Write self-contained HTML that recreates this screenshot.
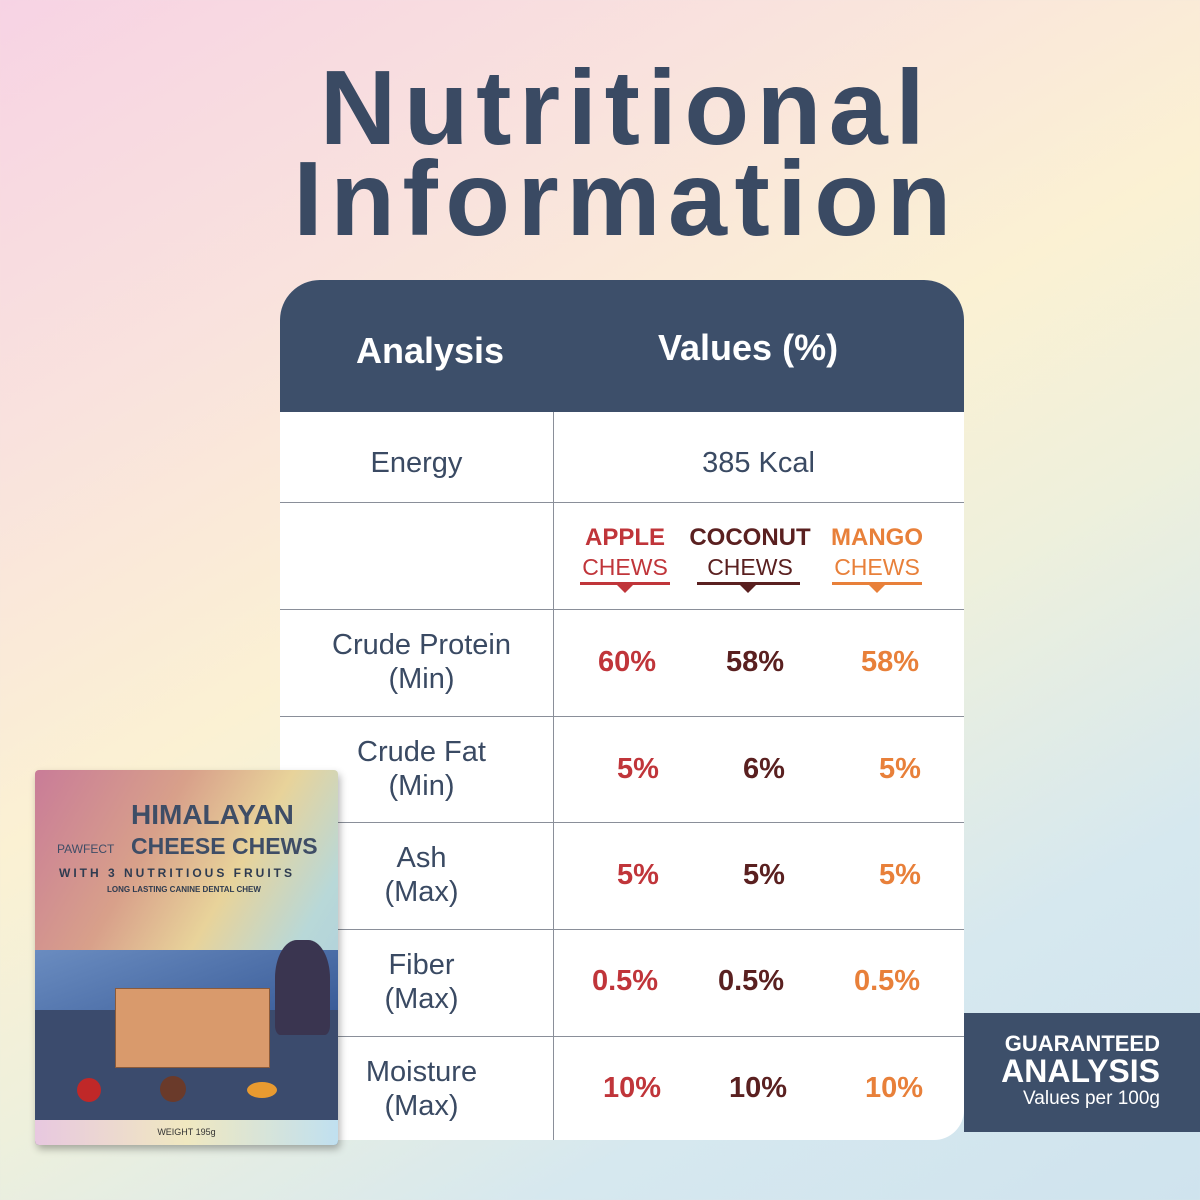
<!DOCTYPE html>
<html><head><style>
*{margin:0;padding:0;box-sizing:border-box}
body{width:1200px;height:1200px;overflow:hidden;position:relative;font-family:"Liberation Sans",sans-serif;
background:linear-gradient(150deg,#f7d3e4 0%,#f9e3dd 25%,#fbf1d3 45%,#eef0dc 60%,#d6e8ef 80%,#cfe3ee 100%)}
.t{position:absolute;left:0;width:1200px;text-align:center;color:#3a4a63;font-weight:bold;font-size:106px;line-height:1;letter-spacing:7.5px}
.tbl{position:absolute;left:280px;top:280px;width:684px;height:860px;background:#fff;border-radius:40px 40px 30px 0;overflow:hidden}
.hd{position:absolute;left:0;top:0;width:684px;height:132px;background:#3d4f6a;color:#fff;font-weight:bold;font-size:36px}
.c{position:absolute;text-align:center;color:#3a4a63;font-size:29px;line-height:34px}
.hl{position:absolute;left:0;width:684px;height:1px;background:#8a8f99}
.v{position:absolute;font-size:29px;font-weight:bold;text-align:center;width:120px}
.a{color:#c0353a}.k{color:#5a2020}.m{color:#e8803a}
</style></head><body>
<div class="t" style="top:55px;left:26px">Nutritional</div>
<div class="t" style="top:146px;left:26px">Information</div>
<div class="tbl">
<div class="hd"><div style="position:absolute;left:76px;top:50px">Analysis</div><div style="position:absolute;left:378px;top:47px">Values (%)</div></div>
<div style="position:absolute;left:273px;top:132px;width:1px;height:728px;background:#8a8f99"></div>
<div class="hl" style="top:222px"></div><div class="hl" style="top:329px"></div><div class="hl" style="top:436px"></div>
<div class="hl" style="top:542px"></div><div class="hl" style="top:649px"></div><div class="hl" style="top:756px"></div>
<div class="c" style="left:0;width:273px;top:166px">Energy</div>
<div class="c" style="left:273px;width:411px;top:166px">385 Kcal</div>
<div style="position:absolute;left:300px;top:244px;width:90px;text-align:center;font-size:24px;font-weight:bold" class="a">APPLE<div style="font-weight:normal;font-size:23px;margin-top:2px">CHEWS</div></div>
<div style="position:absolute;left:400px;top:244px;width:140px;text-align:center;font-size:24px;font-weight:bold" class="k">COCONUT<div style="font-weight:normal;font-size:23px;margin-top:2px">CHEWS</div></div>
<div style="position:absolute;left:544px;top:244px;width:106px;text-align:center;font-size:24px;font-weight:bold" class="m">MANGO<div style="font-weight:normal;font-size:23px;margin-top:2px">CHEWS</div></div>
<div style="position:absolute;left:300px;top:302px;width:90px;height:3px;background:#c0353a"></div>
<div style="position:absolute;left:417px;top:302px;width:103px;height:3px;background:#5a2020"></div>
<div style="position:absolute;left:552px;top:302px;width:90px;height:3px;background:#e8803a"></div>
<div style="position:absolute;left:337px;top:305px;border:8px solid transparent;border-top-color:#c0353a;border-bottom:0"></div>
<div style="position:absolute;left:460px;top:305px;border:8px solid transparent;border-top-color:#5a2020;border-bottom:0"></div>
<div style="position:absolute;left:589px;top:305px;border:8px solid transparent;border-top-color:#e8803a;border-bottom:0"></div>
<div class="c" style="left:10px;width:263px;top:348px">Crude Protein<br>(Min)</div>
<div class="c" style="left:10px;width:263px;top:455px">Crude Fat<br>(Min)</div>
<div class="c" style="left:10px;width:263px;top:561px">Ash<br>(Max)</div>
<div class="c" style="left:10px;width:263px;top:668px">Fiber<br>(Max)</div>
<div class="c" style="left:10px;width:263px;top:775px">Moisture<br>(Max)</div>
<div class="v a" style="left:287px;top:366px">60%</div><div class="v k" style="left:415px;top:366px">58%</div><div class="v m" style="left:550px;top:366px">58%</div>
<div class="v a" style="left:298px;top:473px">5%</div><div class="v k" style="left:424px;top:473px">6%</div><div class="v m" style="left:560px;top:473px">5%</div>
<div class="v a" style="left:298px;top:579px">5%</div><div class="v k" style="left:424px;top:579px">5%</div><div class="v m" style="left:560px;top:579px">5%</div>
<div class="v a" style="left:285px;top:685px">0.5%</div><div class="v k" style="left:411px;top:685px">0.5%</div><div class="v m" style="left:547px;top:685px">0.5%</div>
<div class="v a" style="left:292px;top:792px">10%</div><div class="v k" style="left:418px;top:792px">10%</div><div class="v m" style="left:554px;top:792px">10%</div>
</div>
<div style="position:absolute;left:964px;top:1013px;width:236px;height:119px;background:#3d4f6a;color:#fff;text-align:right;padding:20px 40px 0 0;font-weight:bold">
<div style="font-size:22px;line-height:22px">GUARANTEED</div><div style="font-size:32px;line-height:32px">ANALYSIS</div><div style="font-size:19px;font-weight:normal;line-height:24px">Values per 100g</div></div>
<div style="position:absolute;left:35px;top:770px;width:303px;height:375px;border-radius:4px;overflow:hidden;box-shadow:2px 4px 8px rgba(0,0,0,.3);background:linear-gradient(120deg,#c97c98 0%,#d8a08a 30%,#e8d39a 50%,#b8d8d8 70%,#a8c8e0 100%)">
<div style="position:absolute;left:96px;top:30px;color:#3e4d66;font-weight:bold;font-size:28px;line-height:30px;white-space:nowrap">HIMALAYAN<br><span style="font-size:23px">CHEESE CHEWS</span></div>
<div style="position:absolute;left:22px;top:72px;color:#3e4d66;font-size:12px">PAWFECT</div>
<div style="position:absolute;left:24px;top:96px;color:#2e3b50;font-size:12px;font-weight:bold;letter-spacing:3px;white-space:nowrap">WITH 3 NUTRITIOUS FRUITS</div>
<div style="position:absolute;left:72px;top:115px;color:#2e3b50;font-size:8px;font-weight:bold;white-space:nowrap">LONG LASTING CANINE DENTAL CHEW</div>
<div style="position:absolute;left:0;top:180px;width:303px;height:60px;background:linear-gradient(160deg,#6a8cc0,#3a5c98)"></div>
<div style="position:absolute;left:0;top:240px;width:303px;height:135px;background:#3b4b6d"></div>
<div style="position:absolute;left:80px;top:218px;width:155px;height:80px;background:#d99a6c;border:1px solid #8a5a3a"></div>
<div style="position:absolute;left:240px;top:170px;width:55px;height:95px;background:#3a3550;border-radius:40% 40% 10% 10%"></div>
<div style="position:absolute;left:42px;top:308px;width:24px;height:24px;border-radius:50%;background:#c02828"></div>
<div style="position:absolute;left:125px;top:306px;width:26px;height:26px;border-radius:50%;background:#6a3a2a"></div>
<div style="position:absolute;left:212px;top:312px;width:30px;height:16px;border-radius:50%;background:#e89a30"></div>
<div style="position:absolute;left:0;top:350px;width:303px;height:25px;background:linear-gradient(90deg,#e8c8e0,#f0e8c0,#c0e0f0);color:#333;font-size:9px;text-align:center;line-height:25px">WEIGHT 195g</div>
</div>
</body></html>
